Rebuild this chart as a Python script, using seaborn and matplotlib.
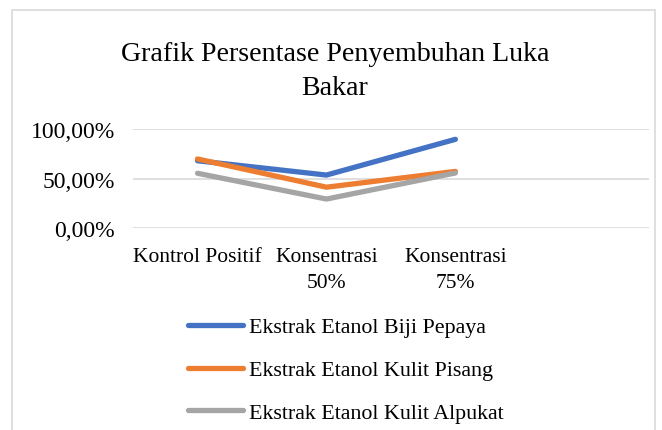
import numpy as np
import pandas as pd
import matplotlib.pyplot as plt
import seaborn as sns
from matplotlib.patches import Rectangle

# data (percent)
kategori = ["Kontrol Positif", "Konsentrasi\n50%", "Konsentrasi\n75%"]
biji_pepaya = [68.0, 53.5, 89.7]
kulit_pisang = [69.8, 41.2, 57.2]
kulit_alpukat = [55.3, 29.2, 55.6]
seri = ["Ekstrak Etanol Biji Pepaya", "Ekstrak Etanol Kulit Pisang", "Ekstrak Etanol Kulit Alpukat"]
warna = ["#4472C4", "#ED7D31", "#A5A5A5"]

df = pd.DataFrame({
    "kategori": kategori * 3,
    "nilai": biji_pepaya + kulit_pisang + kulit_alpukat,
    "seri": [s for s in seri for _ in kategori],
})

sns.set_theme(style="white")
plt.rcParams["font.family"] = ["Liberation Serif", "DejaVu Serif"]
plt.rcParams["text.color"] = "black"
plt.rcParams["xtick.color"] = "black"
plt.rcParams["ytick.color"] = "black"

fig = plt.figure(figsize=(6.62, 4.31), dpi=100)
ax = fig.add_axes([0.201, 0.469, 0.779, 0.229])

sns.lineplot(data=df, x="kategori", y="nilai", hue="seri", hue_order=seri,
             palette=warna, linewidth=3.8, sort=False, ax=ax,
             solid_capstyle="round", clip_on=False)

ax.set_xlim(-0.5, 3.5)
ax.set_ylim(0, 100)
ax.set_xticks([0, 1, 2, 3])
ax.set_xticklabels(kategori + [""], fontsize=15.5, linespacing=1.5)
ax.set_yticks([0, 50, 100])
ax.set_yticklabels(["0,00%", "50,00%", "100,00%"], fontsize=17)
ax.tick_params(axis="both", length=0)
ax.tick_params(axis="y", pad=13)
ax.tick_params(axis="x", pad=14)
ax.set_xlabel("")
ax.set_ylabel("")
ax.grid(axis="y", color="#D9D9D9", linewidth=1.2)
ax.set_axisbelow(True)
for s in ax.spines.values():
    s.set_visible(False)

fig.text(0.506, 0.834, "Grafik Persentase Penyembuhan Luka\nBakar", ha="center",
         va="center", fontsize=20.2, linespacing=1.5)

ax.legend_.remove()
handles, labels = ax.get_legend_handles_labels()
fig.legend(handles, labels, loc="upper left", bbox_to_anchor=(0.284, 0.262),
           frameon=False, fontsize=15.8, handlelength=2.5, handletextpad=0.3,
           labelspacing=1.02, borderpad=0, borderaxespad=0)

# light border of the chart area
fig.patches.append(Rectangle((0.018, -0.1), 0.972, 1.075, transform=fig.transFigure,
                             fill=False, edgecolor="#D9D9D9", linewidth=1.2))

fig.savefig("out.png", dpi=100)
